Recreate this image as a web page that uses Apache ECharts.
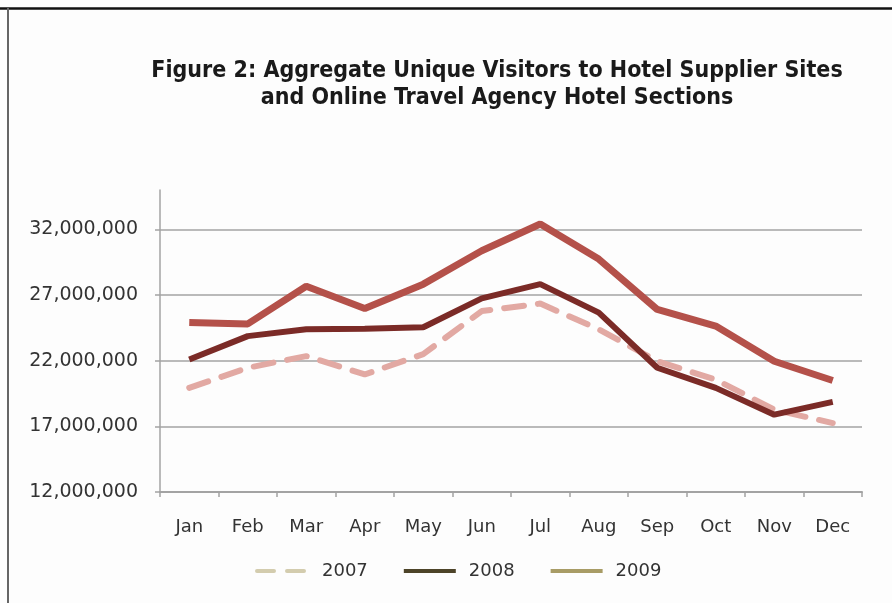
<!DOCTYPE html>
<html>
<head>
<meta charset="utf-8">
<script src="https://cdn.jsdelivr.net/npm/echarts@6/dist/echarts.min.js"></script>
<style>
  html, body { margin: 0; padding: 0; background: #fdfdfd; }
  #chart { width: 892px; height: 603px; }
</style>
</head>
<body>
<div id="chart"></div>
<script>
// Monthly aggregate unique visitors, by year
const months = ['Jan', 'Feb', 'Mar', 'Apr', 'May', 'Jun', 'Jul', 'Aug', 'Sep', 'Oct', 'Nov', 'Dec'];
const visitors2007 = [19930000, 21460000, 22350000, 20950000, 22500000, 25780000, 26350000, 24390000, 21960000, 20560000, 18270000, 17250000];
const visitors2008 = [22090000, 23870000, 24390000, 24440000, 24550000, 26750000, 27830000, 25660000, 21460000, 19930000, 17890000, 18860000];
const visitors2009 = [24900000, 24800000, 27670000, 25970000, 27830000, 30370000, 32410000, 29740000, 25900000, 24640000, 21960000, 20490000];
const yearNames = ['2007', '2008', '2009'];
const yTicks = { min: 12000000, max: 35000000, step: 5000000 };

const FONT = '"DejaVu Sans", Verdana, sans-serif';
const chart = echarts.init(document.getElementById('chart'), null, { renderer: 'canvas' });

const fmt = v => String(v).replace(/\B(?=(\d{3})+(?!\d))/g, ',');

// legend keys: plain line, no point marker
const legendKey = (name, color, dash) => ({
  name,
  lineStyle: { color, width: 4, type: dash || 'solid' },
  itemStyle: { color, opacity: 0, borderWidth: 0 }
});

chart.setOption({
  backgroundColor: '#fdfdfd',
  animation: false,
  title: {
    text: 'Figure 2: Aggregate Unique Visitors to Hotel Supplier Sites\nand Online Travel Agency Hotel Sections',
    left: 492,
    top: 53,
    textAlign: 'center',
    textStyle: {
      fontFamily: '"Liberation Sans Narrow", "DejaVu Sans Condensed", sans-serif',
      fontWeight: 'bold',
      fontSize: 23,
      lineHeight: 27,
      color: '#1a1a1a'
    }
  },
  legend: {
    left: 255,
    top: 562,
    padding: 0,
    itemWidth: 52,
    itemHeight: 14,
    itemGap: 34,
    textStyle: { fontFamily: FONT, fontSize: 18, color: '#333', padding: [0, 0, 0, 8] },
    data: [
      legendKey(yearNames[0], '#d3ccae', [17, 13]),
      legendKey(yearNames[1], '#4d4429'),
      legendKey(yearNames[2], '#a89c66')
    ]
  },
  grid: { left: 160, right: 30, top: 190, bottom: 111, containLabel: false },
  xAxis: {
    type: 'category',
    data: months,
    boundaryGap: true,
    axisLine: { lineStyle: { color: '#a3a3a3', width: 2 } },
    axisTick: { show: true, length: 5, lineStyle: { color: '#a3a3a3', width: 1.5 } },
    axisLabel: { fontFamily: FONT, fontSize: 18, color: '#333', margin: 26 }
  },
  yAxis: {
    type: 'value',
    min: yTicks.min,
    max: yTicks.max,
    interval: yTicks.step,
    axisLine: { show: true, lineStyle: { color: '#a3a3a3', width: 1.5 } },
    axisTick: { show: true, length: 5, lineStyle: { color: '#a3a3a3', width: 1.5 } },
    axisLabel: {
      fontFamily: FONT, fontSize: 19, color: '#333', margin: 22,
      showMaxLabel: false,
      formatter: v => (v === yTicks.max ? '' : fmt(v))
    },
    splitLine: { show: true, showMinLine: false, showMaxLine: false, lineStyle: { color: '#a3a3a3', width: 1.5 } }
  },
  series: [
    {
      name: yearNames[0], type: 'line', data: visitors2007, symbol: 'none', z: 2,
      lineStyle: { color: '#e2a9a3', width: 6, type: [20, 14], cap: 'round' },
      itemStyle: { color: '#e2a9a3' }
    },
    {
      name: yearNames[1], type: 'line', data: visitors2008, symbol: 'none', z: 3,
      lineStyle: { color: '#7b2b27', width: 6 },
      itemStyle: { color: '#7b2b27' }
    },
    {
      name: yearNames[2], type: 'line', data: visitors2009, symbol: 'none', z: 4,
      lineStyle: { color: '#b4514a', width: 7 },
      itemStyle: { color: '#b4514a' }
    }
  ],
  graphic: [
    { type: 'line', shape: { x1: 0, y1: 8.5, x2: 892, y2: 8.5 }, style: { stroke: '#111', lineWidth: 2.5 } },
    { type: 'line', shape: { x1: 8, y1: 8, x2: 8, y2: 603 }, style: { stroke: '#666', lineWidth: 2 } }
  ]
});
</script>
</body>
</html>
